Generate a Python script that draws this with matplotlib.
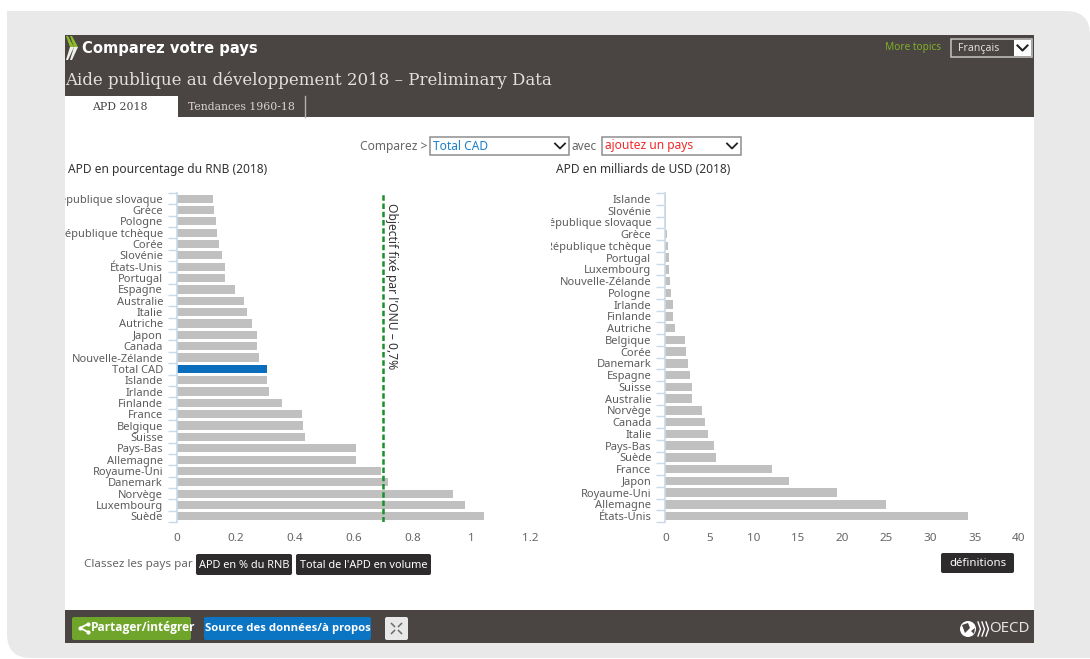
import matplotlib
matplotlib.use("Agg")
import matplotlib.pyplot as plt
from matplotlib.patches import Rectangle, FancyBboxPatch, PathPatch, Circle, Polygon
from matplotlib.path import Path

plt.rcParams['font.family'] = ['Noto Sans', 'DejaVu Sans']

# --- Data ---
gni_countries = ["République slovaque", "Grèce", "Pologne", "République tchèque", "Corée",
                 "Slovénie", "États-Unis", "Portugal", "Espagne", "Australie", "Italie",
                 "Autriche", "Japon", "Canada", "Nouvelle-Zélande", "Total CAD", "Islande",
                 "Irlande", "Finlande", "France", "Belgique", "Suisse", "Pays-Bas",
                 "Allemagne", "Royaume-Uni", "Danemark", "Norvège", "Luxembourg", "Suède"]
gni_values = [0.122, 0.126, 0.132, 0.136, 0.144, 0.152, 0.164, 0.164, 0.198, 0.229, 0.237,
              0.255, 0.273, 0.273, 0.278, 0.307, 0.307, 0.312, 0.355, 0.423, 0.428, 0.434,
              0.609, 0.609, 0.692, 0.715, 0.937, 0.979, 1.041]
gni_ticks = [0, 0.2, 0.4, 0.6, 0.8, 1, 1.2]
un_target = 0.7

usd_countries = ["Islande", "Slovénie", "République slovaque", "Grèce", "République tchèque",
                 "Portugal", "Luxembourg", "Nouvelle-Zélande", "Pologne", "Irlande", "Finlande",
                 "Autriche", "Belgique", "Corée", "Danemark", "Espagne", "Suisse", "Australie",
                 "Norvège", "Canada", "Italie", "Pays-Bas", "Suède", "France", "Japon",
                 "Royaume-Uni", "Allemagne", "États-Unis"]
usd_values = [0.07, 0.08, 0.1, 0.2, 0.25, 0.38, 0.4, 0.5, 0.65, 0.9, 0.9, 1.1, 2.2, 2.3, 2.55,
              2.8, 3.05, 3.05, 4.1, 4.5, 4.85, 5.55, 5.7, 12.1, 14.0, 19.4, 24.95, 34.2]
usd_ticks = [0, 5, 10, 15, 20, 25, 30, 35, 40]

W, H = 1090, 659
DARK = "#4a4443"
GREY_BAR = "#c0c0c0"
BLUE = "#0a6ebd"
AXIS_BLUE = "#c9d9ea"
LABEL = "#5c5c5c"

fig = plt.figure(figsize=(W / 100, H / 100), dpi=100, facecolor="white")

# page layer in pixel coordinates
bg = fig.add_axes([0, 0, 1, 1])
bg.set_xlim(0, W)
bg.set_ylim(H, 0)
bg.axis("off")

# grey card: square top-left, rounded top-right and bottom-left
r = 24
verts = [(7, 11), (W - r, 11), (W, 11), (W, 11 + r), (W, 658), (7 + r, 658), (7, 658), (7, 658 - r), (7, 11)]
codes = [Path.MOVETO, Path.LINETO, Path.CURVE3, Path.CURVE3, Path.LINETO, Path.LINETO,
         Path.CURVE3, Path.CURVE3, Path.CLOSEPOLY]
bg.add_patch(PathPatch(Path(verts, codes), fc="#e9e9e9", ec="none"))

panel = Rectangle((65, 35), 969, 608, fc="white", ec="none")
bg.add_patch(panel)
bg.add_patch(Rectangle((65, 35), 969, 82, fc=DARK, ec="none"))
bg.add_patch(Rectangle((65, 610), 969, 33, fc=DARK, ec="none"))
bg.add_patch(Rectangle((65, 96), 113, 22, fc="white", ec="none"))
bg.plot([305, 305], [96, 117], color="#b5b1b0", lw=1)


def button(x0, x1, y0, y1, color, label=None, size=7.9, **kw):
    bg.add_patch(FancyBboxPatch((x0 + 2, y0 + 2), x1 - x0 - 4, y1 - y0 - 4,
                                boxstyle="round,pad=2", fc=color, ec="none"))
    if label:
        bg.text((x0 + x1) / 2, (y0 + y1) / 2 + 0.5, label, color="white", fontsize=size,
                ha="center", va="center", **kw)


def select(x0, x1, y0, y1, label, color, size=8.6):
    bg.add_patch(Rectangle((x0, y0), x1 - x0, y1 - y0, fc="white", ec="#8e8e8e", lw=1.1))
    bg.text(x0 + 3, (y0 + y1) / 2, label, color=color, fontsize=size, ha="left", va="center")
    cy = (y0 + y1) / 2
    bg.plot([x1 - 14, x1 - 9, x1 - 4], [cy - 2.5, cy + 2.5, cy - 2.5], color="#222222", lw=1.3)


# header chevrons, green above the tip and white below it
for off in (0, 4):
    bg.add_patch(Polygon([(66 + off, 36), (68 + off, 36), (74 + off, 47), (70 + off, 47)],
                         fc="#8dbb2e", ec="none"))
    bg.add_patch(Polygon([(70 + off, 47), (74 + off, 47), (68 + off, 60), (66 + off, 60)],
                         fc="#f1f1ec", ec="none"))
bg.text(82, 48.5, "Comparez votre pays", color="white", fontsize=10.6, fontweight="bold",
        family="DejaVu Sans", va="center")
bg.text(65, 80.5, "Aide publique au développement 2018 – Preliminary Data", color="#e2e0df",
        fontsize=12.0, family="DejaVu Serif", va="center")
bg.text(120, 106.5, "APD 2018", color="#444444", fontsize=7.8, family="DejaVu Serif", ha="center", va="center")
bg.text(241.5, 106.5, "Tendances 1960-18", color="#d8d5d4", fontsize=7.8, family="DejaVu Serif", ha="center", va="center")
bg.text(885, 47.5, "More topics", color="#7fae2a", fontsize=7.3, va="center")
bg.add_patch(Rectangle((951, 39), 81, 18, fc=DARK, ec="#c4c4c4", lw=1.1))
bg.add_patch(Rectangle((1014, 40), 17, 16, fc="white", ec="none"))
bg.plot([1017.5, 1022.5, 1027.5], [45.5, 50.5, 45.5], color="#222222", lw=1.5)
bg.text(958, 48, "Français", color="#e0dedd", fontsize=7.6, va="center")

# selectors
bg.text(360, 146.5, "Comparez >", color="#666666", fontsize=8.6, va="center")
select(430, 569, 137, 155, "Total CAD", "#1b7fc9")
bg.text(572, 146.5, "avec", color="#666666", fontsize=8.6, va="center")
select(602, 741, 137, 155, "ajoutez un pays", "#ee2a2a")

# chart titles
bg.text(68, 169.5, "APD en pourcentage du RNB (2018)", color="#333333", fontsize=8.6, va="center")
bg.text(556, 169.5, "APD en milliards de USD (2018)", color="#333333", fontsize=8.6, va="center")


def bar_panel(x0, x1, names, values, ticks, xmax, clip_left):
    y0, y1 = 193, 522
    ax = fig.add_axes([x0 / W, 1 - y1 / H, (x1 - x0) / W, (y1 - y0) / H])
    ax.patch.set_alpha(0)
    colors = [BLUE if n == "Total CAD" else GREY_BAR for n in names]
    pos = list(range(len(names)))
    ax.barh(pos, values, height=0.72, color=colors, zorder=2)
    ax.set_xlim(0, xmax)
    ax.set_ylim(len(names) - 0.5, -0.5)
    for s in ["top", "right", "bottom"]:
        ax.spines[s].set_visible(False)
    ax.spines["left"].set_color(AXIS_BLUE)
    ax.spines["left"].set_linewidth(1.2)
    ax.set_xticks(ticks)
    ax.set_xticklabels([str(t) for t in ticks], fontsize=8.4, color="#666666")
    ax.tick_params(axis="x", length=0, pad=7.7)
    ax.set_yticks(pos)
    ax.set_yticklabels(names, fontsize=8.0, color=LABEL)
    ax.tick_params(axis="y", which="major", length=0, pad=10)
    ax.set_yticks([p - 0.5 for p in pos] + [len(names) - 0.5], minor=True)
    ax.tick_params(axis="y", which="minor", length=6.5, width=1, color=AXIS_BLUE)
    # long names are cut off at the edge of the chart area
    cut = Rectangle((clip_left, 180), x0 - clip_left, 350, transform=bg.transData)
    for lab in ax.get_yticklabels():
        lab.set_clip_path(cut)
        lab.set_clip_on(True)
    return ax


ax_gni = bar_panel(177, 530.4, gni_countries, gni_values, gni_ticks, 1.2, 65)
ax_usd = bar_panel(665.3, 1019, usd_countries, usd_values, usd_ticks, 40, 551)

ax_gni.axvline(un_target, color="#1a8f2a", lw=1.8, ls=(0, (2.2, 1.1)), zorder=3)
ax_gni.text(0.707, 0.38, "Objectif fixé par l'ONU – 0,7%", rotation=-90, fontsize=8.7, color="#333333",
            ha="left", va="bottom", rotation_mode="anchor", zorder=4)

# sort and definitions buttons
bg.text(84, 565, "Classez les pays par", color="#666666", fontsize=8.4, va="center")
button(196, 292, 554, 575, "#2d2b2b", "APD en % du RNB")
button(296, 431, 554, 575, "#2d2b2b", "Total de l'APD en volume")
button(941, 1014, 553, 573, "#2d2b2b", "définitions", 8.2)

# footer
button(72, 191, 617, 640, "#6fa52b")
bg.text(91, 628, "Partager/intégrer", color="white", fontsize=8.6, fontweight="bold",
        family="Open Sans", va="center")
bg.plot([88, 80, 88], [624, 628, 632], color="white", lw=1.3, marker="o", ms=2)
button(204, 371, 617, 640, "#0b75c4", "Source des données/à propos", 8.2, fontweight="bold", family="Open Sans")
button(385, 408, 617, 640, "#e8e8e8")
for sx, sy in [(-1, -1), (1, -1), (-1, 1), (1, 1)]:
    bg.plot([396.5 + sx * 2, 396.5 + sx * 5], [628.5 + sy * 2, 628.5 + sy * 5], color="#6a6a6a", lw=1.1)

# OECD mark
bg.add_patch(Circle((968, 629), 8, fc="white", ec="none"))
bg.add_patch(Polygon([(962, 625), (968, 623), (970, 628), (965, 633)], fc=DARK, ec="none"))
bg.add_patch(Polygon([(971, 631), (975, 628), (974, 634)], fc=DARK, ec="none"))
for cx in (978, 982, 986):
    bg.plot([cx, cx + 2.5, cx], [622, 629, 636], color="white", lw=1)
bg.text(989, 629, "OECD", color="#e6e4e3", fontsize=10.8, va="center")

fig.savefig("out.png", dpi=100, facecolor="white")
